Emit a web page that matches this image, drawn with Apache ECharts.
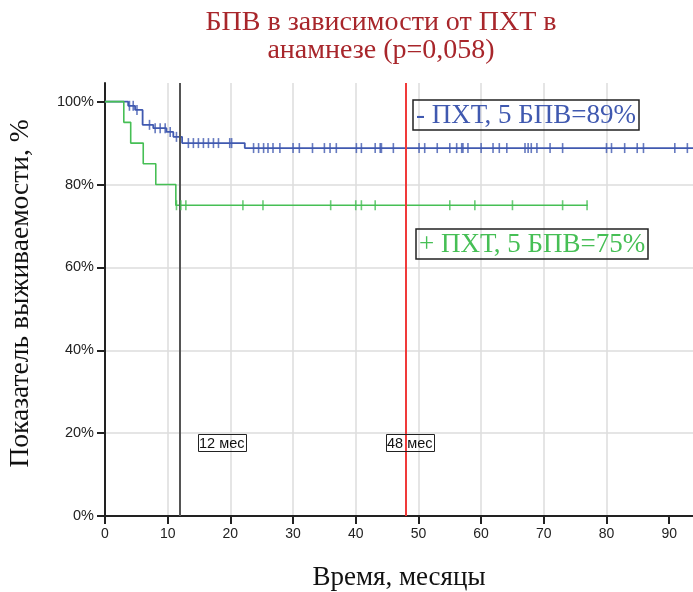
<!DOCTYPE html>
<html>
<head>
<meta charset="utf-8">
<script src="https://cdn.jsdelivr.net/npm/echarts@6/dist/echarts.min.js"></script>
<style>
html,body{margin:0;padding:0;background:#fff;}
#chart{width:693px;height:592px;}
</style>
</head>
<body>
<div id="chart"></div>
<script>
// Kaplan–Meier: relapse-free survival by prior chemotherapy
// Event steps: [time in months, survival % after the step]
const noChemoSteps = [[0,100],[3.7,99],[4.8,98],[6.0,94.4],[7.7,93.6],[9.8,92.7],[10.9,91.5],[12.3,90.0],[22.3,88.8],[95,88.8]];
const noChemoCensored = [3.9,4.5,5.1,7.1,8.0,8.8,9.6,10.4,11.4,13.3,14.1,14.9,15.7,16.5,17.3,18.1,19.9,20.2,
  23.7,24.5,25.3,26.0,26.8,27.9,30.0,31.0,33.1,35.0,35.9,36.9,40.1,40.9,43.1,43.9,44.1,46.0,
  50.1,51.0,53.0,55.0,56.1,56.9,57.1,57.9,60.0,61.9,62.9,64.1,67.0,67.5,68.0,68.9,71.0,73.0,
  80.0,80.8,82.9,84.9,85.9,90.9,92.9];
const chemoSteps = [[0,100],[3.0,95],[4.1,90],[6.1,85],[8.1,80],[11.3,75],[77,75]];
const chemoCensored = [11.4,12.1,12.9,22.0,25.2,36.0,40.0,40.9,43.1,55.0,59.0,65.0,73.0,76.9];

const xTicks = [0,10,20,30,40,50,60,70,80,90];
const yTicks = [0,20,40,60,80,100];
const refMonths = [12,48];

const blue = '#4059b0';
const green = '#46bf55';

// survival value of a step curve at time t
function survivalAt(steps, t){
  let s = steps[0][1];
  for (const [x,y] of steps){ if (x <= t) s = y; else break; }
  return s;
}
const censorMark = (steps, times) => times.map(t => [t, survivalAt(steps, t)]);

const chart = echarts.init(document.getElementById('chart'));
const serif = '"Liberation Serif","Times New Roman",serif';
const sans = '"Liberation Sans",Arial,sans-serif';

chart.setOption({
  animation: false,
  backgroundColor: '#fff',
  title: [
    { text: 'БПВ в зависимости от ПХТ в\nанамнезе (p=0,058)', left: 376, top: 4, textAlign: 'center',
      textStyle: { fontFamily: serif, fontSize: 28, fontWeight: 'normal', color: '#a8262b', lineHeight: 28 } },
    { text: '- ПХТ, 5 БПВ=89%', left: 413, top: 100, padding: [2,3,1,3], borderColor: '#222', borderWidth: 1.5,
      textStyle: { fontFamily: serif, fontSize: 27, fontWeight: 'normal', color: blue } },
    { text: '+ ПХТ, 5 БПВ=75%', left: 416, top: 229, padding: [2,3,1,3], borderColor: '#222', borderWidth: 1.5,
      textStyle: { fontFamily: serif, fontSize: 27, fontWeight: 'normal', color: green } },
    { text: '12 мес', left: 198, top: 434, padding: [2,2,1,1], borderColor: '#222', borderWidth: 1,
      textStyle: { fontFamily: sans, fontSize: 14.5, fontWeight: 'normal', color: '#111' } },
    { text: '48 мес', left: 386, top: 434, padding: [2,2,1,1], borderColor: '#222', borderWidth: 1,
      textStyle: { fontFamily: sans, fontSize: 14.5, fontWeight: 'normal', color: '#111' } }
  ],
  grid: { left: 105, right: 0, top: 83, bottom: 76, outerBoundsMode: 'none', containLabel: false },
  xAxis: {
    type: 'value', min: 0, max: 93.8, interval: 10,
    name: 'Время, месяцы', nameLocation: 'middle', nameGap: 48,
    nameTextStyle: { fontFamily: serif, fontSize: 27, color: '#111' },
    axisLine: { lineStyle: { color: '#222', width: 2 } },
    axisTick: { show: true, length: 8, lineStyle: { color: '#222', width: 2 }, customValues: xTicks },
    axisLabel: { fontFamily: sans, fontSize: 14, color: '#222', margin: 11, customValues: xTicks },
    splitLine: { show: true, lineStyle: { color: '#dcdcdc', width: 1.5 }, showMinLine: false, showMaxLine: false }
  },
  yAxis: {
    type: 'value', min: 0, max: 104.5, interval: 20,
    name: 'Показатель выживаемости, %', nameLocation: 'middle', nameGap: 70,
    nameTextStyle: { fontFamily: serif, fontSize: 27.5, color: '#111', padding: [0, 0, 0, 12] },
    axisLine: { show: true, lineStyle: { color: '#222', width: 2 } },
    axisTick: { show: true, length: 8, lineStyle: { color: '#222', width: 2 }, customValues: yTicks },
    axisLabel: { fontFamily: sans, fontSize: 14.5, color: '#222', margin: 11, customValues: yTicks,
      formatter: v => v + '%' },
    splitLine: { show: true, lineStyle: { color: '#dcdcdc', width: 1.5 }, showMaxLine: false, showMinLine: false }
  },
  series: [
    { name: 'no chemo', type: 'line', step: 'end', data: noChemoSteps, symbol: 'none',
      lineStyle: { color: blue, width: 1.8 }, z: 4 },
    { name: 'no chemo censored', type: 'scatter', data: censorMark(noChemoSteps, noChemoCensored),
      symbol: 'rect', symbolSize: [1.6, 10], itemStyle: { color: blue }, z: 5 },
    { name: 'chemo', type: 'line', step: 'end', data: chemoSteps, symbol: 'none',
      lineStyle: { color: green, width: 1.6 }, z: 4,
      markLine: {
        silent: true, symbol: 'none', label: { show: false },
        data: [
          [{ coord: [refMonths[0], 0] }, { coord: [refMonths[0], 104.5] }],
          [{ coord: [refMonths[1], 0] }, { coord: [refMonths[1], 104.5], lineStyle: { color: '#f03a3a' } }]
        ],
        lineStyle: { color: '#555', width: 2, type: 'solid' }
      } },
    { name: 'chemo censored', type: 'scatter', data: censorMark(chemoSteps, chemoCensored),
      symbol: 'rect', symbolSize: [1.6, 10], itemStyle: { color: green }, z: 5 }
  ]
});
</script>
</body>
</html>
